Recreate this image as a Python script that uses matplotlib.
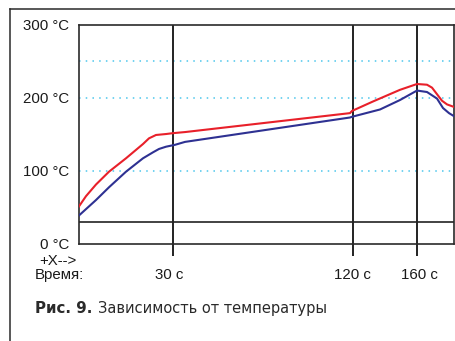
import matplotlib
matplotlib.use("Agg")
import matplotlib.pyplot as plt
from matplotlib.lines import Line2D

W, H = 455, 341

# x positions are measured along the chart from the left axis (non-uniform time scale)
red_x = [0, 7, 17, 30, 47, 64, 70, 77, 87, 94, 106, 271, 273, 294, 321, 338, 348, 353, 358, 363, 368, 376]
red_y = [51, 65, 81, 98.6, 117, 136.6, 144.4, 149, 150.3, 151.5, 153, 179, 182, 195, 211, 219, 218, 214, 205, 196, 191, 187]

blue_x = [0, 17, 30, 47, 64, 74, 80, 87, 96, 106, 271, 273, 301, 321, 338, 348, 358, 364, 370, 376]
blue_y = [38.5, 59.7, 77.2, 98.6, 117, 125.2, 129.8, 132.9, 135.5, 139.5, 173, 174, 184, 197, 210, 208, 199, 186, 179, 174]

mark_pos = [94, 274, 338]
mark_labels = ["30 с", "120 с", "160 с"]
label_pos = [90, 273, 340]

y_ticks = [0, 100, 200, 300]
y_labels = ["0 °C", "100 °C", "200 °C", "300 °C"]
grid_levels = [100, 200, 250]
limit_level = 30

plt.rcParams['font.family'] = ['Liberation Sans', 'DejaVu Sans']

fig = plt.figure(figsize=(W / 100, H / 100), dpi=100)
ax = fig.add_axes([79 / W, (H - 243.5) / H, 375 / W, 218.5 / H])
ax.set_xlim(0, 375)
ax.set_ylim(0, 300)

for s in ax.spines.values():
    s.set_color("#2a2a2a")
    s.set_linewidth(1.2)

for g in grid_levels:
    ax.axhline(g, color="#4cc6ec", lw=1.1, linestyle=(0, (1, 3.4)), zorder=1)
ax.axhline(limit_level, color="#222222", lw=1.2, zorder=2)
ax.vlines(mark_pos, -16.5, 300, color="#222222", lw=1.4, clip_on=False, zorder=2)

ax.plot(red_x, red_y, color="#e8202a", lw=1.5, zorder=3)
ax.plot(blue_x, blue_y, color="#2e3192", lw=1.5, zorder=3)

ax.set_yticks(y_ticks)
ax.set_yticklabels(y_labels)
ax.set_xticks([])
ax.tick_params(axis="y", length=0, pad=7.2, labelsize=10.8, labelcolor="#1a1a1a")

for p, lab in zip(label_pos, mark_labels):
    ax.text(p, -35.8 / 218.5, lab, transform=ax.get_xaxis_transform(), ha="center",
            va="baseline", fontsize=10.8, color="#1a1a1a")

fig.text(39 / W, 1 - 265 / H, "+X-->", fontsize=10.8, va="baseline", color="#1a1a1a")
fig.text(35 / W, 1 - 279.3 / H, "Время:", fontsize=10.8, va="baseline", color="#1a1a1a")

fig.text(35 / W, 1 - 313 / H, "Рис. 9.", fontsize=10.8, fontweight="bold", va="baseline",
         family="DejaVu Sans", color="#2a2a2a")
fig.text(97.5 / W, 1 - 313 / H, "Зависимость от температуры", fontsize=10.5, va="baseline",
         family="DejaVu Sans", color="#2a2a2a")

# outer frame
fig.add_artist(Line2D([10 / W, 10 / W], [0, 1 - 9.3 / H], color="#2a2a2a", lw=1.1,
                      transform=fig.transFigure))
fig.add_artist(Line2D([10 / W, 1], [1 - 9.3 / H, 1 - 9.3 / H], color="#2a2a2a", lw=1.1,
                      transform=fig.transFigure))

fig.savefig("out.png", dpi=100)
